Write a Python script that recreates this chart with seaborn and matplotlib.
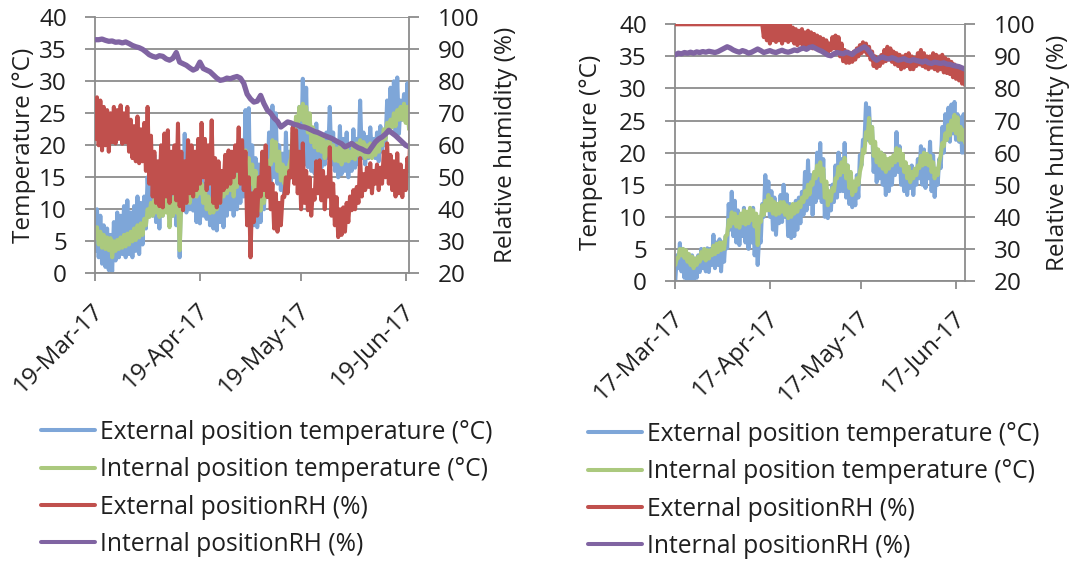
import numpy as np
import pandas as pd
import matplotlib
matplotlib.use("Agg")
import matplotlib.pyplot as plt
import matplotlib.dates as mdates
import matplotlib.transforms as mtransforms
from matplotlib.lines import Line2D
import seaborn as sns

# ------------------------------------------------------------------ data
series_names = ["External position temperature (°C)",
                "Internal position temperature (°C)",
                "External positionRH (%)",
                "Internal positionRH (%)"]

temp_ticks = [0, 5, 10, 15, 20, 25, 30, 35, 40]
rh_ticks = [20, 30, 40, 50, 60, 70, 80, 90, 100]

left_start = "2017-03-19"
left_ticks = ["2017-03-19", "2017-04-19", "2017-05-19", "2017-06-19"]
right_start = "2017-03-17"
right_ticks = ["2017-03-17", "2017-04-17", "2017-05-17", "2017-06-17"]

# Left panel, daily low / high readings (19-Mar .. 20-Jun)
L_ext_t_lo = [3.5, 2.5, 1.5, 1, 0.5, 0.3, 2, 2.5, 3, 2.5,
              3, 2.5, 3.5, 3, 4.5, 7, 10, 9, 8, 7,
              9, 10, 8.5, 9, 7.5, 2.5, 10, 9.5, 10, 9.8,
              8, 7.8, 9, 8.5, 7.5, 7, 6.7, 8, 7.2, 9,
              10, 9, 10, 11, 12, 9.8, 9, 7.5, 7.2, 8,
              10, 13, 14, 15, 14, 13, 12, 13, 15, 16,
              17, 18, 17, 16.6, 16, 15.6, 16, 16.5, 17, 18,
              17, 16, 15, 15.5, 16, 15, 16, 16.5, 17, 18,
              17, 18, 18.5, 18, 17.5, 19, 20, 22, 23, 22,
              21.8, 24, 24, 23]
L_ext_t_hi = [10, 9, 7.5, 7, 6, 8, 9.5, 9, 10.5, 11.4,
              9.5, 10.5, 12, 11, 12, 15, 17.5, 18.5, 16.5, 19,
              17, 18, 17, 16, 17.5, 16, 21.8, 19, 18, 17,
              16, 15, 14, 15, 13.4, 12, 13, 15, 16, 16.6,
              15, 16, 16.6, 17, 25.5, 25.8, 20, 18, 17, 16,
              18, 22, 26.2, 25, 20, 18.7, 22, 19, 21, 24,
              26, 30.4, 29, 24, 22, 23.4, 21, 20, 22, 26,
              22, 20, 23, 21, 22, 20, 22.5, 21, 27, 22,
              21.3, 22.8, 21, 22, 23, 22, 27, 29, 30, 30.6,
              27, 28, 29.7, 29]
L_int_t_lo = [5.5, 4.5, 4, 3.8, 3.6, 2.5, 3.5, 3.8, 4, 4.2,
              4.5, 5, 5.2, 5.6, 6, 7.5, 8.8, 9, 9.5, 8.8,
              9, 9.5, 7.2, 9, 9.5, 3.6, 10, 11, 11, 12,
              12, 12.5, 11, 10, 9.4, 9.5, 10, 11, 12, 12.5,
              13, 12, 13.5, 15, 16, 15, 14, 13, 11, 9.8,
              11, 14, 17, 17.6, 16, 14.5, 14, 15, 18, 21,
              23, 24, 23.5, 22, 20.5, 19.7, 19.2, 19, 18, 18.5,
              18, 17.6, 17.5, 17, 17.6, 17.5, 18, 17.8, 18.5, 18.5,
              18, 18.2, 18, 18.5, 19, 20, 21, 22, 22.8, 23,
              24, 24, 23.5, 22.5]
L_int_t_hi = [7.2, 6.5, 6, 5.6, 5.5, 5, 5.2, 5.6, 6, 6.2,
              6.5, 7, 7.5, 7.8, 8.5, 10, 11, 11.5, 12.5, 12,
              12.5, 12, 11, 12, 12.5, 11, 13, 13.5, 13, 14,
              14, 14, 13, 12, 11.5, 12, 12.5, 13.5, 15, 15.5,
              16, 15, 16, 18.5, 19.2, 18, 17, 16, 14, 13,
              14, 17.6, 20.8, 20.5, 19, 17, 16.5, 17, 22, 24.5,
              26, 26.5, 26, 25, 22.8, 22, 21.8, 21, 20.5, 20.8,
              20, 19.5, 19.8, 19.5, 20, 19, 20, 20.3, 20.8, 20.5,
              20, 20.3, 20, 20.5, 21, 22.5, 23.5, 24, 25, 25.5,
              26, 26.5, 26, 25]
L_ext_rh_lo = [62, 60, 58.4, 60, 58, 61, 60.6, 62, 60.5, 61,
               58, 56, 55, 54.4, 55, 52, 48, 44, 42, 41,
               40.6, 44, 42, 45, 42.8, 41, 39.7, 42, 45, 44,
               46, 48, 50, 46, 48, 42, 40.6, 42, 46, 47,
               48, 50, 52, 48, 46, 35, 25, 36, 38, 44,
               46, 43.8, 40, 34, 33, 35, 43.8, 45, 50, 48,
               45, 40, 42, 39.7, 38, 43, 45, 42.8, 40, 44,
               38, 35, 31.3, 32, 33, 36, 39.7, 40, 42, 44,
               46, 47, 45, 48, 46, 48, 50, 48, 46, 44,
               45, 43.8, 46, 52]
L_ext_rh_hi = [75, 74, 72, 71, 70, 72, 71, 72.5, 70, 72,
               68, 66, 69, 65, 67, 72, 63, 58, 55, 60,
               63.7, 64.7, 58, 60, 66.8, 58, 55, 61.6, 60, 58,
               62, 67, 62, 60, 67.8, 56, 55, 52, 57, 58.4,
               58, 60, 65.6, 61.6, 58, 50, 45, 46, 50, 58,
               60, 53, 48, 45, 42, 44, 50, 52, 65.6, 64.7,
               58, 60.6, 52, 50, 46, 55, 55.3, 52, 50, 59.4,
               48, 43.8, 40, 40.6, 42, 44, 46, 47, 56, 51,
               53, 54.4, 52, 54, 53, 58, 60.6, 57, 55, 57.5,
               54, 52, 56, 67.8]
L_int_rh = [93, 93, 93.2, 92.8, 92.5, 92.6, 92.2, 92.3, 92, 92.3,
            91.8, 91.2, 90.8, 90.5, 90, 89.2, 88.3, 87.8, 87.5, 88,
            87.8, 87, 86.6, 87.2, 89, 86, 85.5, 85, 84.2, 83.5,
            84, 86, 84, 83.5, 83, 82, 81, 80.3, 80.5, 81,
            80.8, 81.2, 81.5, 81, 79.4, 76, 74.5, 73.5, 73.8, 75.6,
            73, 71, 70, 68.5, 67.5, 65.7, 66.5, 67.3, 67, 66.5,
            66.3, 65.8, 65.7, 65.3, 64.8, 64.3, 64, 63.5, 63, 62.6,
            62.2, 61.6, 61, 60.5, 59.5, 60, 60.6, 59.8, 59.2, 58.8,
            58.2, 58, 59.5, 61, 62, 62.6, 63.5, 64.7, 63.8, 63,
            62, 61, 60, 59.5]

# Right panel, daily low / high readings (17-Mar .. 20-Jun)
R_ext_t_lo = [0, 2, 1.5, 0.5, 0, 0, 0.2, 0.5, 1.4, 2,
              1.5, 1.4, 2.5, 2, 2.5, 1.5, 3, 5.1, 8, 7,
              6, 5.6, 7, 6, 5, 6, 4, 2.5, 6, 10,
              11.4, 10, 8, 7.2, 9, 9.2, 10, 7, 6.7, 7,
              8, 9, 10.3, 11, 12, 10.3, 12.3, 13, 12.3, 10,
              9.8, 11, 12.3, 13, 14, 14, 13, 12, 11.5, 11.8,
              13, 18, 21.7, 22, 21.7, 17, 15.4, 16, 15, 13.4,
              14, 15, 16.5, 17, 15, 14, 13.4, 14.5, 13.4, 15,
              16, 15, 14.5, 16, 14, 13.1, 15, 17.6, 20, 22,
              21.7, 23, 22, 21.7, 20, 19.9]
R_ext_t_hi = [4, 5.9, 5, 4.5, 3.5, 4, 3.5, 4, 5, 4.5,
              5.1, 5, 7.2, 6, 6.5, 6, 7, 12, 13.9, 12.5,
              11, 10, 11.4, 10.5, 10, 11.4, 8, 7, 12, 16.5,
              15.5, 14, 13, 12, 13.4, 15, 13.5, 12, 11, 12.5,
              13, 13.9, 17, 18.8, 16.5, 15, 20, 21.5, 19, 14.5,
              13.5, 15, 18, 20, 19, 21.5, 18, 16, 15, 16.5,
              19.6, 22, 27.7, 27, 24, 20.7, 19, 20, 19.2, 18,
              17.5, 19, 23.2, 21, 18, 17, 16.5, 18, 17, 19,
              21, 20.5, 19, 21.7, 19.6, 17, 19, 24, 26, 27,
              27.5, 27.9, 26, 25.5, 26, 23]
R_int_t_lo = [2.5, 3.6, 4, 3.6, 3, 2.5, 2, 2.5, 3, 3.5,
              3.2, 3.5, 4, 4.2, 4.5, 4.8, 5, 7.2, 8.5, 9,
              8.5, 8.3, 9, 8.8, 9, 9.5, 8.5, 5.6, 9.2, 10.3,
              11, 11, 10.5, 10.3, 10.5, 10.8, 10.3, 9.8, 10, 10.5,
              10.8, 11.5, 12.3, 13, 13.5, 15, 16, 16.5, 15.5, 13,
              11.8, 12.5, 14, 16, 16.5, 17, 16, 14.5, 13.4, 14,
              15, 18, 20, 22.3, 21.5, 19.5, 18.5, 18, 17.5, 17,
              17.5, 18, 18.5, 18.8, 18, 17, 16, 15.4, 16, 16.5,
              17.6, 18, 18.2, 18, 17, 16, 16.5, 19.6, 21, 22,
              22.7, 23.5, 23, 22, 22, 21.5]
R_int_t_hi = [3.5, 5, 5, 4.8, 4.2, 3.8, 3.5, 3.8, 4.5, 5,
              4.8, 4.8, 5.5, 5.8, 6, 6, 7, 9.5, 10.7, 10.5,
              10, 10.5, 11, 10.8, 11.4, 11, 10.5, 10, 11.8, 12.5,
              13.4, 12.8, 12.3, 12, 12.3, 12.3, 11.8, 11.5, 12, 12,
              12.3, 13, 14, 15, 15.4, 17, 18, 18.5, 17.5, 15.5,
              14, 14.5, 16, 17.8, 18.5, 19.2, 18, 17, 15.5, 16,
              17, 20.5, 23.2, 25.4, 24, 21.7, 20.5, 20, 19.6, 19,
              19.2, 19.6, 20.7, 20.5, 19.8, 18.5, 17.8, 17, 17.5, 18,
              19.5, 20, 19.8, 19.5, 18.5, 17.5, 18.5, 21.5, 23, 24.3,
              25, 25.9, 25.5, 24, 23.5, 23]
R_ext_rh_lo = [100, 100, 100, 100, 100, 100, 100, 100, 100, 100,
               100, 100, 100, 100, 100, 100, 100, 100, 100, 100,
               100, 100, 100, 100, 100, 100, 100, 100, 100, 96,
               95, 94, 95, 94.5, 95, 94, 95, 94.5, 95, 94,
               93.5, 94, 93, 93.5, 93, 92.5, 93, 92, 92, 91.5,
               91, 92, 92.5, 92, 90, 88.5, 88, 88, 88.3, 89,
               90, 91, 91.5, 90.5, 89, 87, 86.4, 87, 88, 88.5,
               89, 88.3, 87.5, 87, 86, 86.5, 87, 86, 86, 87,
               87.5, 87, 86.5, 86, 86.5, 86, 85.5, 86, 85, 84.8,
               84.5, 83.5, 83, 82.5, 81.5, 81]
R_ext_rh_hi = [100, 100, 100, 100, 100, 100, 100, 100, 100, 100,
               100, 100, 100, 100, 100, 100, 100, 100, 100, 100,
               100, 100, 100, 100, 100, 100, 100, 100, 100, 100,
               100, 100, 100, 100, 100, 100, 99.5, 100, 99, 98.5,
               98, 98.5, 97.5, 98, 97.5, 97, 96.5, 96, 95.5, 95,
               94, 96, 96.5, 96, 94, 92, 91.5, 91, 91.5, 92.5,
               93.5, 94.4, 94, 93, 91.5, 90, 89.5, 90.4, 92, 93,
               92.5, 91.5, 91, 90.5, 90, 90.5, 91, 90, 89.5, 91,
               92, 91, 90, 90, 91, 90.5, 90, 90.5, 89.5, 89,
               88.3, 87.5, 87, 86, 85.5, 84]
R_int_rh = [90.5, 91, 90.8, 91.2, 91, 91.3, 91, 91.4, 91.2, 91.5,
            91.3, 91.6, 91.4, 91.2, 91.5, 92, 92.5, 93, 92.6, 92,
            91.6, 91.3, 91.8, 91.5, 91, 91.3, 91.8, 92.3, 91.8, 91.2,
            91.5, 91.8, 91.4, 91.2, 91.6, 91.9, 91.5, 91.3, 91.6, 92,
            91.8, 92.3, 92.6, 92.2, 92.8, 93, 92.5, 92, 91.6, 91,
            90.4, 90.2, 90.8, 91.2, 91, 90.8, 91.3, 91, 90.6, 91.5,
            92, 92.5, 93, 92.2, 91, 89.5, 88.8, 89.5, 89.8, 89.4,
            89.2, 89.6, 89.3, 88.8, 89, 89.3, 88.8, 88.6, 89, 88.7,
            88.5, 88.2, 88.6, 88, 87.8, 88.2, 88, 87.8, 88, 87.6,
            87.5, 87.2, 87, 86.8, 86.4, 86]

# ------------------------------------------------------------------ style
BLUE, GREEN, RED, PURPLE = "#7EA6D8", "#ABC97E", "#C0504D", "#8064A2"
GRID = "#8C8C8C"
TXT = "#1F1F1F"
LWS = [2.9, 2.9, 2.9, 3.8]
FS = 17.5
LFS = 17.7

sns.set_theme(style="white")
plt.rcParams["font.family"] = ["Open Sans", "DejaVu Sans"]


def zigzag(start, lo, hi):
    vals = [v for pair in zip(lo, hi) for v in pair]
    t = pd.Timestamp(start) + pd.to_timedelta(np.arange(len(vals)) * 12, unit="h")
    return pd.DataFrame({"time": t, "value": vals})


def daily(start, vals):
    t = pd.Timestamp(start) + pd.to_timedelta(np.arange(len(vals)), unit="D")
    return pd.DataFrame({"time": t, "value": vals})


fig = plt.figure(figsize=(10.77, 5.64), dpi=100)


def draw_panel(rect, start, end_days, ticks, frames, ylab_x, y2lab_x, leg_anchor):
    ax = fig.add_axes(rect)
    ax2 = ax.twinx()
    cols = [BLUE, GREEN, RED, PURPLE]
    targets = [ax, ax, ax2, ax2]
    for df, c, a, lw in zip(frames, cols, targets, LWS):
        sns.lineplot(data=df, x="time", y="value", ax=a, color=c, linewidth=lw,
                     estimator=None, sort=False, legend=False)
    x0 = pd.Timestamp(start)
    ax.set_xlim(x0, x0 + pd.Timedelta(days=end_days))
    ax.set_ylim(0, 40)
    ax2.set_ylim(20, 100)
    ax.set_yticks(temp_ticks)
    ax2.set_yticks(rh_ticks)
    ax.set_xticks(pd.to_datetime(ticks))
    ax.xaxis.set_major_formatter(mdates.DateFormatter("%d-%b-%y"))
    ax.set_xlabel("")
    ax2.set_xlabel("")
    ax.set_ylabel("Temperature (°C)", fontsize=FS, color=TXT)
    ax2.set_ylabel("Relative humidity (%)", fontsize=FS, color=TXT)
    ax.yaxis.set_label_coords(ylab_x, 0.5)
    ax2.yaxis.set_label_coords(y2lab_x, 0.5)

    ax.grid(axis="y", color=GRID, linewidth=1.3)
    ax.grid(axis="x", visible=False)
    ax2.grid(False)
    ax.set_axisbelow(True)
    for s in ["top", "right"]:
        ax.spines[s].set_visible(False)
    for s in ["top", "left", "bottom"]:
        ax2.spines[s].set_visible(False)
    for s in ["left", "bottom"]:
        ax.spines[s].set_color(GRID)
        ax.spines[s].set_linewidth(1.3)
    ax2.spines["right"].set_color(GRID)
    ax2.spines["right"].set_linewidth(1.3)

    ax.tick_params(axis="y", left=True, direction="out", length=7.5, width=1.3,
                   color=GRID, pad=13, labelsize=FS, labelcolor=TXT)
    ax2.tick_params(axis="y", right=True, direction="out", length=7.5, width=1.3,
                    color=GRID, pad=13, labelsize=FS, labelcolor=TXT)
    ax.tick_params(axis="x", bottom=True, direction="out", length=5.8, width=1.3,
                   color=GRID, pad=18.5, labelsize=FS, labelcolor=TXT)
    shift = mtransforms.ScaledTranslation(5 / 100, 0, fig.dpi_scale_trans)
    for lab in ax.get_xticklabels():
        lab.set_rotation(45)
        lab.set_ha("right")
        lab.set_va("center")
        lab.set_rotation_mode("anchor")
        lab.set_transform(lab.get_transform() + shift)

    handles = [Line2D([], [], color=c, linewidth=2.9) for c in cols]
    fig.legend(handles, series_names, loc="upper left", bbox_to_anchor=leg_anchor,
               bbox_transform=fig.transFigure, frameon=False, fontsize=LFS,
               handlelength=2.2, handletextpad=0.2, labelspacing=0.5,
               borderpad=0, borderaxespad=0, labelcolor=TXT)
    return ax, ax2


W, H = 1077, 564
left_frames = [zigzag(left_start, L_ext_t_lo, L_ext_t_hi),
               zigzag(left_start, L_int_t_lo, L_int_t_hi),
               zigzag(left_start, L_ext_rh_lo, L_ext_rh_hi),
               daily(left_start, L_int_rh)]
right_frames = [zigzag(right_start, R_ext_t_lo, R_ext_t_hi),
                zigzag(right_start, R_int_t_lo, R_int_t_hi),
                zigzag(right_start, R_ext_rh_lo, R_ext_rh_hi),
                daily(right_start, R_int_rh)]

draw_panel([95.3 / W, 1 - 273.3 / H, 314 / W, 256 / H], left_start, 93.07, left_ticks,
           left_frames, -0.19, 1.27, (41 / W, 1 - 420 / H))
draw_panel([675.3 / W, 1 - 281 / H, 290 / W, 256.7 / H], right_start, 95.05, right_ticks,
           right_frames, -0.25, 1.28, (588 / W, 1 - 422 / H))

fig.savefig("out.png", dpi=100)
